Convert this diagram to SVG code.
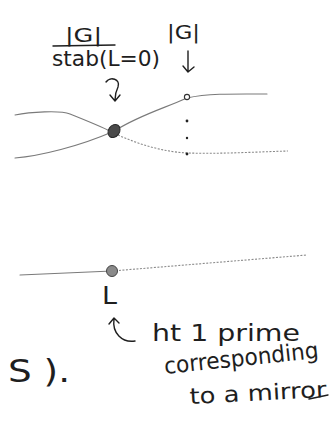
<svg xmlns="http://www.w3.org/2000/svg" width="336" height="423" viewBox="0 0 336 423">
<style>
.ink{font-family:"DejaVu Sans","Liberation Sans",sans-serif;fill:#1e1e1e;font-weight:normal}
.curve{fill:none;stroke:#7a7a7a;stroke-width:1.1;stroke-linecap:round}
.dotted{fill:none;stroke:#8a8a8a;stroke-width:1.1;stroke-dasharray:2 1.5}
.pen{fill:none;stroke:#1e1e1e;stroke-width:1.4;stroke-linecap:round;stroke-linejoin:round}
</style>
<rect width="336" height="423" fill="#ffffff"/>
<g id="connectors">
  <path class="curve" d="M15,115 C30,112 60,110 70,114 C85,120 100,126 112,132"/>
  <path class="curve" d="M15,158 C40,156 80,146 112,132"/>
  <path class="curve" d="M116,130 C140,115 165,108 187,98 C210,93 240,94 267,94"/>
  <path class="dotted" d="M118,135 C140,145 165,152 187,153 C220,154 255,152 288,151"/>
  <path class="curve" d="M20,275 L112,271"/>
  <path class="dotted" d="M112,271 L307,255"/>
</g>
<g id="node-cross">
  <ellipse cx="114" cy="131" rx="5.5" ry="7" transform="rotate(35 114 131)" fill="#4a4a4a" stroke="#2a2a2a" stroke-width="1"/>
</g>
<g id="node-open">
  <circle cx="187" cy="97" r="2.6" fill="#ffffff" stroke="#333" stroke-width="1.1"/>
</g>
<g id="dots">
  <circle cx="187" cy="121" r="1.4" fill="#222"/>
  <circle cx="187" cy="138" r="1.2" fill="#222"/>
  <circle cx="187" cy="154" r="1.4" fill="#222"/>
</g>
<g id="node-bottom">
  <circle cx="112" cy="271" r="5.5" fill="#8a8a8a" stroke="#444" stroke-width="1"/>
</g>
<g id="label-fraction">
  <text class="ink" x="65" y="42" font-size="20" textLength="37" lengthAdjust="spacingAndGlyphs">|G|</text>
  <path class="pen" d="M53,46 L115,45"/>
  <text class="ink" x="52" y="66" font-size="21" textLength="108" lengthAdjust="spacingAndGlyphs">stab(L=0)</text>
  <path class="pen" d="M106,82 C110,76 121,79 118,87 C116,91 115,94 115,100 M110,95 L115,101 L120,95"/>
</g>
<g id="label-G">
  <text class="ink" x="167" y="39" font-size="20" textLength="33" lengthAdjust="spacingAndGlyphs">|G|</text>
  <path class="pen" d="M188,51 L188,71 M183,66 L188,72 L194,67"/>
</g>
<g id="label-L">
  <text class="ink" x="102" y="304" font-size="25" textLength="15" lengthAdjust="spacingAndGlyphs">L</text>
  <path class="pen" d="M135,341 C122,343 112,333 114,319 M109,324 L114,318 L119,323"/>
</g>
<g id="label-note">
  <text class="ink" x="152" y="341" font-size="23" textLength="148" lengthAdjust="spacingAndGlyphs">ht 1 prime</text>
  <text class="ink" x="165" y="374" font-size="23" textLength="155" lengthAdjust="spacingAndGlyphs" transform="rotate(-6 165 374)">corresponding</text>
  <text class="ink" x="190" y="404" font-size="22" textLength="137" lengthAdjust="spacingAndGlyphs" transform="rotate(-3 190 404)">to a mirror</text>
  <path class="pen" d="M309,399 L328,395"/>
</g>
<g id="label-S">
  <text class="ink" x="8" y="382" font-size="32" textLength="62" lengthAdjust="spacingAndGlyphs">S ).</text>
</g>
</svg>
